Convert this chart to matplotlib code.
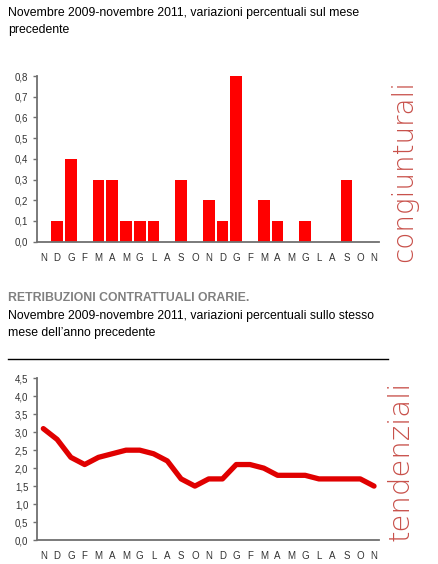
import numpy as np
import matplotlib
matplotlib.use("Agg")
import matplotlib.pyplot as plt

plt.rcParams['font.family'] = ['Liberation Sans', 'DejaVu Sans']

mesi = ['N', 'D', 'G', 'F', 'M', 'A', 'M', 'G', 'L', 'A', 'S', 'O',
        'N', 'D', 'G', 'F', 'M', 'A', 'M', 'G', 'L', 'A', 'S', 'O', 'N']
congiunturali = [0.0, 0.1, 0.4, 0.0, 0.3, 0.3, 0.1, 0.1, 0.1, 0.0, 0.3, 0.0,
                 0.2, 0.1, 0.8, 0.0, 0.2, 0.1, 0.0, 0.1, 0.0, 0.0, 0.3, 0.0, 0.0]
tendenziali = [3.1, 2.8, 2.3, 2.1, 2.3, 2.4, 2.5, 2.5, 2.4, 2.2, 1.7, 1.5,
               1.7, 1.7, 2.1, 2.1, 2.0, 1.8, 1.8, 1.8, 1.7, 1.7, 1.7, 1.7, 1.5]
ticks_top = [0.0, 0.1, 0.2, 0.3, 0.4, 0.5, 0.6, 0.7, 0.8]
ticks_bot = [0.0, 0.5, 1.0, 1.5, 2.0, 2.5, 3.0, 3.5, 4.0, 4.5]

W, H = 438, 564
fig = plt.figure(figsize=(W / 100, H / 100), dpi=100)

def fx(px):
    return px / W

def fy(py):
    return 1 - py / H

axis_col = '#707070'
x = np.arange(len(mesi))

def style(ax, ticks, ylim):
    for s in ['top', 'right']:
        ax.spines[s].set_visible(False)
    for s in ['left', 'bottom']:
        ax.spines[s].set_color(axis_col)
        ax.spines[s].set_linewidth(1.3)
    ax.set_xlim(-0.48, 24.36)
    ax.set_ylim(*ylim)
    ax.set_yticks(ticks)
    ax.set_yticklabels([f"{t:.1f}".replace('.', ',') for t in ticks])
    ax.set_xticks(x)
    ax.set_xticklabels(mesi)
    ax.tick_params(axis='y', length=3, width=1, color=axis_col, pad=3,
                   labelsize=7, labelcolor='#333333')
    ax.tick_params(axis='x', length=0, pad=8, labelsize=7, labelcolor='#333333')

# grafico congiunturale
ax1 = fig.add_axes([fx(36.7), fy(241.7), fx(379 - 36.7), (241.7 - 76) / H])
ax1.bar(x, congiunturali, width=0.85, color='#ff0000')
style(ax1, ticks_top, (0, 0.8))

# grafico tendenziale
ax2 = fig.add_axes([fx(36.7), fy(540), fx(379 - 36.7), (540 - 378.3) / H])
ax2.plot(x, tendenziali, color='#e00000', linewidth=3.8, solid_joinstyle='round',
         solid_capstyle='round')
style(ax2, ticks_bot, (0, 4.5))

# testi
fig.text(fx(8), fy(13), "Novembre 2009-novembre 2011, variazioni percentuali sul mese",
         fontsize=8.8, va='center', ha='left')
fig.text(fx(8), fy(30), "precedente", fontsize=8.8, va='center', ha='left')

fig.text(fx(8), fy(298), "RETRIBUZIONI CONTRATTUALI ORARIE.", fontsize=8.8,
         fontweight='bold', color='#808080', va='center', ha='left')
fig.text(fx(8), fy(316.5), "Novembre 2009-novembre 2011, variazioni percentuali sullo stesso",
         fontsize=8.8, va='center', ha='left')
fig.text(fx(8), fy(333), "mese dell\u2019anno precedente", fontsize=8.8, va='center', ha='left')

fig.add_artist(plt.Line2D([fx(8), fx(388)], [fy(359), fy(359)], color='black', linewidth=1))

lab_col = '#c8504a'
fig.text(fx(404), fy(171), "congiunturali", rotation=90, fontsize=20,
         family=['DejaVu Sans'], fontweight='light', color=lab_col, va='center', ha='center')
fig.text(fx(401), fy(461), "tendenziali", rotation=90, fontsize=21,
         family=['DejaVu Sans'], fontweight='light', color=lab_col, va='center', ha='center')

fig.savefig("out.png", dpi=100)
